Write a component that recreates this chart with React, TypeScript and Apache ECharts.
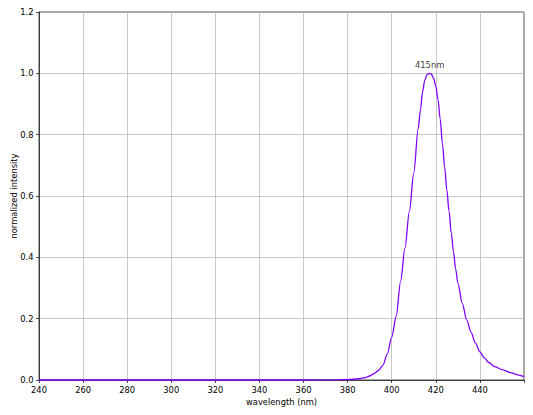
import React, { useEffect, useRef } from "react";
import * as echarts from "echarts";

const wavelengths = [
  240, 300, 360, 375, 380, 385, 388, 390, 392, 394, 396, 398, 400, 402, 404,
  406, 408, 410, 412, 413, 414, 415, 416, 417, 418, 419, 420, 421, 422, 423,
  424, 425, 426, 427, 428, 429, 430, 432, 434, 436, 438, 440, 442, 444, 447,
  450, 454, 457, 460,
];
const intensity = [
  0, 0, 0, 0.0005, 0.001, 0.004, 0.008, 0.013, 0.021, 0.031, 0.048, 0.085,
  0.14, 0.207, 0.32, 0.43, 0.55, 0.675, 0.82, 0.88, 0.94, 0.978, 0.996, 1.0,
  0.997, 0.984, 0.958, 0.914, 0.85, 0.77, 0.695, 0.62, 0.55, 0.48, 0.418,
  0.362, 0.316, 0.25, 0.196, 0.155, 0.12, 0.092, 0.072, 0.057, 0.043, 0.034,
  0.024, 0.017, 0.011,
];
const xTicks = [240, 260, 280, 300, 320, 340, 360, 380, 400, 420, 440];
const yTicks = [0, 0.2, 0.4, 0.6, 0.8, 1.0, 1.2];
const peakLabel = "415nm";
const peakPoint = [417.2, 1.0];

const FONT = "DejaVu Sans";
const FS = 8.33;

export default function App() {
  const ref = useRef<HTMLDivElement>(null);
  useEffect(() => {
    if (!ref.current) return;
    const chart = echarts.init(ref.current, null, { renderer: "svg" });
    const data = wavelengths.map((w, i) => [w, intensity[i]]);
    chart.setOption({
      animation: false,
      backgroundColor: "#ffffff",
      textStyle: { fontFamily: FONT },
      grid: {
        left: 39,
        right: 9,
        top: 12,
        bottom: 35,
        show: true,
        borderColor: "#222",
        borderWidth: 0.8,
        containLabel: false,
        outerBoundsMode: "none",
      },
      xAxis: {
        type: "value",
        min: xTicks[0],
        max: 460,
        interval: 20,
        name: "wavelength (nm)",
        nameLocation: "middle",
        nameGap: 18,
        nameMoveOverlap: false,
        nameTextStyle: { fontFamily: FONT, fontSize: FS, color: "#000" },
        axisLine: { show: true, onZero: false, lineStyle: { color: "#222", width: 0.8 } },
        axisTick: { show: true, inside: false, length: 3, lineStyle: { color: "#222", width: 0.8 } },
        axisLabel: {
          fontFamily: FONT,
          fontSize: FS,
          color: "#000",
          margin: 5.5,
          formatter: (v: number) => (xTicks.includes(v) ? String(v) : ""),
        },
        splitLine: { show: true, lineStyle: { color: "#b0b0b0", width: 0.7 } },
      },
      yAxis: {
        type: "value",
        min: yTicks[0],
        max: yTicks[yTicks.length - 1],
        interval: 0.2,
        name: "normalized intensity",
        nameLocation: "middle",
        nameGap: 21,
        nameMoveOverlap: false,
        nameTextStyle: { fontFamily: FONT, fontSize: FS, color: "#000" },
        axisLine: { show: true, onZero: false, lineStyle: { color: "#222", width: 0.8 } },
        axisTick: { show: true, inside: false, length: 3, lineStyle: { color: "#222", width: 0.8 } },
        axisLabel: {
          fontFamily: FONT,
          fontSize: FS,
          color: "#000",
          margin: 5.5,
          formatter: (v: number) => v.toFixed(1),
        },
        splitLine: { show: true, lineStyle: { color: "#b0b0b0", width: 0.7 } },
      },
      series: [
        {
          type: "line",
          data,
          showSymbol: false,
          symbol: "none",
          smooth: 0.3,
          smoothMonotone: "x",
          lineStyle: { color: "#7f00ff", width: 1.3 },
          z: 3,
        },
        {
          type: "scatter",
          data: [peakPoint],
          symbolSize: 0,
          silent: true,
          label: {
            show: true,
            position: "top",
            distance: 4,
            formatter: peakLabel,
            fontFamily: FONT,
            fontSize: FS,
            color: "#000",
          },
          z: 4,
        },
      ],
    });
    return () => chart.dispose();
  }, []);
  return (
    <div
      ref={ref}
      style={{ position: "fixed", left: 0, top: 0, width: 533, height: 415 }}
    />
  );
}
